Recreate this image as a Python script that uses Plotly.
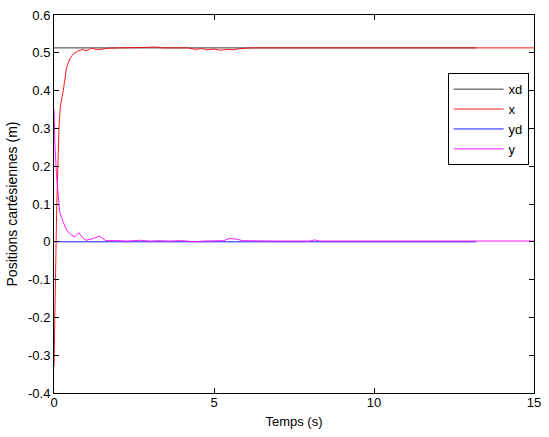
import plotly.graph_objects as go

# Desired trajectories
t_des = [0, 13.2]
xd_vals = [0.513, 0.513]
yd_vals = [0.0, 0.0]

# Actual x trajectory
t_x = [0, 0.02, 0.04, 0.06, 0.08, 0.1, 0.13, 0.16, 0.2, 0.29, 0.39, 0.5, 0.59,
       0.75, 0.9, 1.0, 1.1, 1.2, 1.36, 1.5, 1.7, 2.0, 2.5, 2.8, 3.0, 3.2, 3.4,
       3.8, 4.2, 4.4, 4.6, 4.8, 5.0, 5.2, 5.4, 5.6, 5.8, 6.2, 6.7, 6.8, 7.0,
       8.0, 10.0, 12.0, 13.2, 15.0]
x_vals = [-0.33, -0.2, -0.08, 0.0, 0.07, 0.14, 0.227, 0.31, 0.36, 0.40, 0.46,
          0.485, 0.496, 0.505, 0.509, 0.505, 0.509, 0.512, 0.508, 0.51, 0.512,
          0.513, 0.513, 0.514, 0.515, 0.515, 0.513, 0.513, 0.513, 0.509, 0.511,
          0.508, 0.51, 0.507, 0.509, 0.508, 0.511, 0.513, 0.513, 0.511, 0.513,
          0.513, 0.513, 0.513, 0.513, 0.513]

# Actual y trajectory
t_y = [0, 0.03, 0.08, 0.13, 0.18, 0.29, 0.39, 0.54, 0.65, 0.78, 0.9, 1.0, 1.2,
       1.42, 1.62, 2.0, 2.3, 2.7, 3.0, 3.3, 3.6, 4.0, 4.4, 4.7, 5.0, 5.3, 5.5,
       5.7, 5.9, 6.3, 7.0, 8.0, 8.15, 8.3, 9.0, 10.0, 12.0, 15.0]
y_vals = [0.35, 0.253, 0.175, 0.112, 0.078, 0.052, 0.031, 0.018, 0.013, 0.024,
          0.01, 0.004, 0.008, 0.015, 0.003, 0.003, 0.002, 0.004, 0.002, 0.003,
          0.002, 0.003, 0.0, 0.002, 0.002, 0.003, 0.009, 0.007, 0.003, 0.002,
          0.002, 0.002, 0.005, 0.002, 0.002, 0.002, 0.002, 0.002]

x_ticks = [0, 5, 10, 15]
y_ticks = [-0.4, -0.3, -0.2, -0.1, 0, 0.1, 0.2, 0.3, 0.4, 0.5, 0.6]
y_ticktext = ["-0.4", "-0.3", "-0.2", "-0.1", "0", "0.1", "0.2", "0.3", "0.4", "0.5", "0.6"]

fig = go.Figure()
fig.add_trace(go.Scatter(x=t_des, y=xd_vals, mode="lines", name="xd",
                         line=dict(color="#222222", width=0.9)))
fig.add_trace(go.Scatter(x=t_x, y=x_vals, mode="lines", name="x",
                         line=dict(color="#ff0000", width=0.9)))
fig.add_trace(go.Scatter(x=t_des, y=yd_vals, mode="lines", name="yd",
                         line=dict(color="#0000ff", width=0.9)))
fig.add_trace(go.Scatter(x=t_y, y=y_vals, mode="lines", name="y",
                         line=dict(color="#ff00ff", width=0.9)))

axis_common = dict(showgrid=False, zeroline=False, showline=True, linecolor="black",
                   linewidth=1, mirror="ticks", ticks="inside", ticklen=5,
                   tickcolor="black", tickfont=dict(size=13, color="black"))

fig.update_layout(
    width=549, height=437,
    margin=dict(l=54, r=8, t=10, b=44),
    paper_bgcolor="white", plot_bgcolor="white",
    font=dict(family="Liberation Sans, Arial, sans-serif", size=13, color="black"),
    xaxis=dict(range=[0, 15], tickvals=x_ticks, ticklabelstandoff=-3,
               title=dict(text="Temps (s)", standoff=8, font=dict(size=13)), **axis_common),
    yaxis=dict(range=[-0.4, 0.6], tickvals=y_ticks, ticktext=y_ticktext,
               title=dict(text="Positions cartésiennes (m)", standoff=7, font=dict(size=14)),
               **axis_common),
    legend=dict(x=0.82, y=0.846, xanchor="left", yanchor="top",
                bordercolor="black", borderwidth=1, bgcolor="white",
                font=dict(size=13), tracegroupgap=0, itemwidth=50),
    showlegend=True,
)

fig.write_html("out.html")
